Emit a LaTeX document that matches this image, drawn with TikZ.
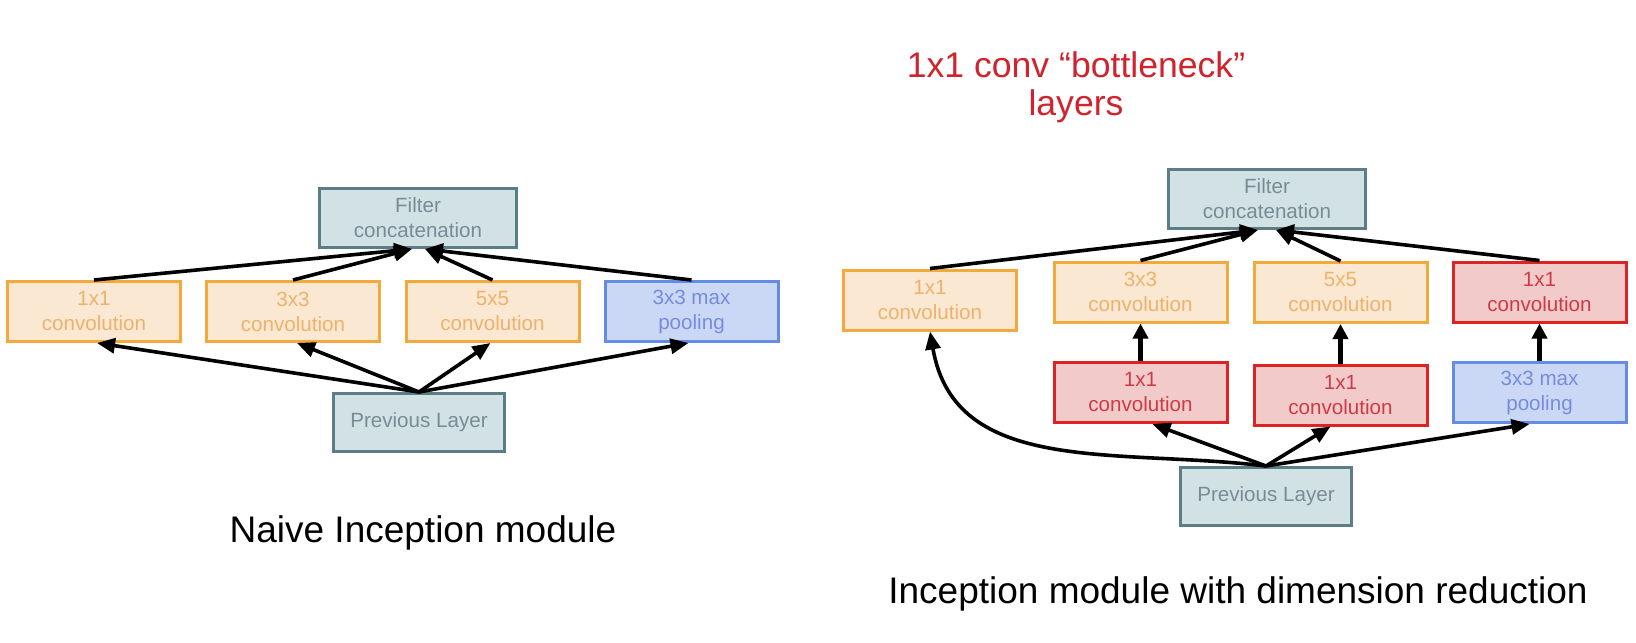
\documentclass[tikz,border=0pt]{standalone}
\usepackage{fontspec}
\setmainfont{Liberation Sans}
\usetikzlibrary{arrows.meta,calc}
\definecolor{obord}{RGB}{242,170,60}
\definecolor{ofill}{RGB}{250,232,210}
\definecolor{otext}{RGB}{238,178,108}
\definecolor{tbord}{RGB}{90,125,135}
\definecolor{tfill}{RGB}{210,225,228}
\definecolor{ttext}{RGB}{120,140,150}
\definecolor{rbord}{RGB}{222,35,35}
\definecolor{rfill}{RGB}{242,202,202}
\definecolor{rtext}{RGB}{205,60,70}
\definecolor{bbord}{RGB}{100,140,230}
\definecolor{bfill}{RGB}{202,216,245}
\definecolor{btext}{RGB}{120,140,220}
\definecolor{redlabel}{RGB}{208,35,45}
\begin{document}
\begin{tikzpicture}[x=0.5pt,y=-0.5pt,
  box/.style={draw, line width=1.5pt, minimum width=86.5pt, minimum height=30pt,
    inner sep=0pt, align=center, font=\fontsize{10.3}{12.5}\selectfont},
  orangebox/.style={box, draw=obord, fill=ofill, text=otext},
  tealbox/.style={box, draw=tbord, fill=tfill, text=ttext},
  redbox/.style={box, draw=rbord, fill=rfill, text=rtext},
  bluebox/.style={box, draw=bbord, fill=bfill, text=btext},
  arr/.style={line width=1.8pt, -{Triangle[length=9pt,width=7.5pt]}},
  thickarr/.style={line width=2.6pt, -{Triangle[length=7.5pt,width=7.5pt]}},
  caption/.style={font=\fontsize{18.5}{22}\selectfont, anchor=base},
  redtext/.style={font=\fontsize{17.8}{19}\selectfont, text=redlabel, anchor=base}
]
\useasboundingbox (0,0) rectangle (1636,642);

% ---------- Naive Inception module ----------
\node[tealbox, minimum width=98.5pt, minimum height=29.5pt] (lconcat) at (418,218) {Filter\\concatenation};
\node[orangebox] (l1) at (94,311.5) {1x1\\convolution};
\node[orangebox] (l3) at (293,311.5) {3x3\\convolution};
\node[orangebox] (l5) at (492.5,311.5) {5x5\\convolution};
\node[bluebox] (lpool) at (691.5,311.5) {3x3 max\\pooling};
\node[tealbox, minimum width=85.5pt, minimum height=29pt] (lprev) at (419,422.5) {Previous Layer};

\draw[arr] (l1.north) -- ($(lconcat.south)+(-6,0)$);
\draw[arr] (l3.north) -- ($(lconcat.south)+(-6,0)$);
\draw[arr] (l5.north) -- ($(lconcat.south)+(7,0)$);
\draw[arr] (lpool.north) -- ($(lconcat.south)+(7,0)$);

\draw[arr] (lprev.north) -- ($(l1.south)+(3,0)$);
\draw[arr] (lprev.north) -- ($(l3.south)+(4,0)$);
\draw[arr] (lprev.north) -- ($(l5.south)+(-2,0)$);
\draw[arr] (lprev.north) -- ($(lpool.south)+(-3,0)$);

\node[caption] (cap1) at (423,542) {Naive Inception module};

% ---------- Inception module with dimension reduction ----------
\node[redtext] (bn1) at (1076,77) {1x1 conv “bottleneck”};
\node[redtext] (bn2) at (1076,115) {layers};

\node[tealbox, minimum width=98.5pt, minimum height=29.5pt] (rconcat) at (1267,199) {Filter\\concatenation};
\node[orangebox] (r1) at (930,300) {1x1\\convolution};
\node[orangebox] (r3) at (1140.5,292) {3x3\\convolution};
\node[orangebox] (r5) at (1340.5,292.5) {5x5\\convolution};
\node[redbox] (rp1) at (1539.5,292) {1x1\\convolution};
\node[redbox] (rb3) at (1140.5,392.5) {1x1\\convolution};
\node[redbox] (rb5) at (1340.5,395) {1x1\\convolution};
\node[bluebox] (rpool) at (1539.5,392.5) {3x3 max\\pooling};
\node[tealbox, minimum width=85.5pt, minimum height=29pt] (rprev) at (1266,496.5) {Previous Layer};

\draw[arr] (r1.north) -- ($(rconcat.south)+(-9,0)$);
\draw[arr] (r3.north) -- ($(rconcat.south)+(-9,0)$);
\draw[arr] (r5.north) -- ($(rconcat.south)+(9,0)$);
\draw[arr] (rp1.north) -- ($(rconcat.south)+(9,0)$);

\draw[thickarr] (rb3.north) -- (r3.south);
\draw[thickarr] (rb5.north) -- (r5.south);
\draw[thickarr] (rpool.north) -- (rp1.south);

\draw[arr] (rprev.north) .. controls +(-150,-18) and +(25,145) .. (r1.south);
\draw[arr] (rprev.north) -- ($(rb3.south)+(12,0)$);
\draw[arr] (rprev.north) -- ($(rb5.south)+(-10,0)$);
\draw[arr] (rprev.north) -- ($(rpool.south)+(-10,0)$);

\node[caption] (cap2) at (1238,603) {Inception module with dimension reduction};
\end{tikzpicture}
\end{document}
